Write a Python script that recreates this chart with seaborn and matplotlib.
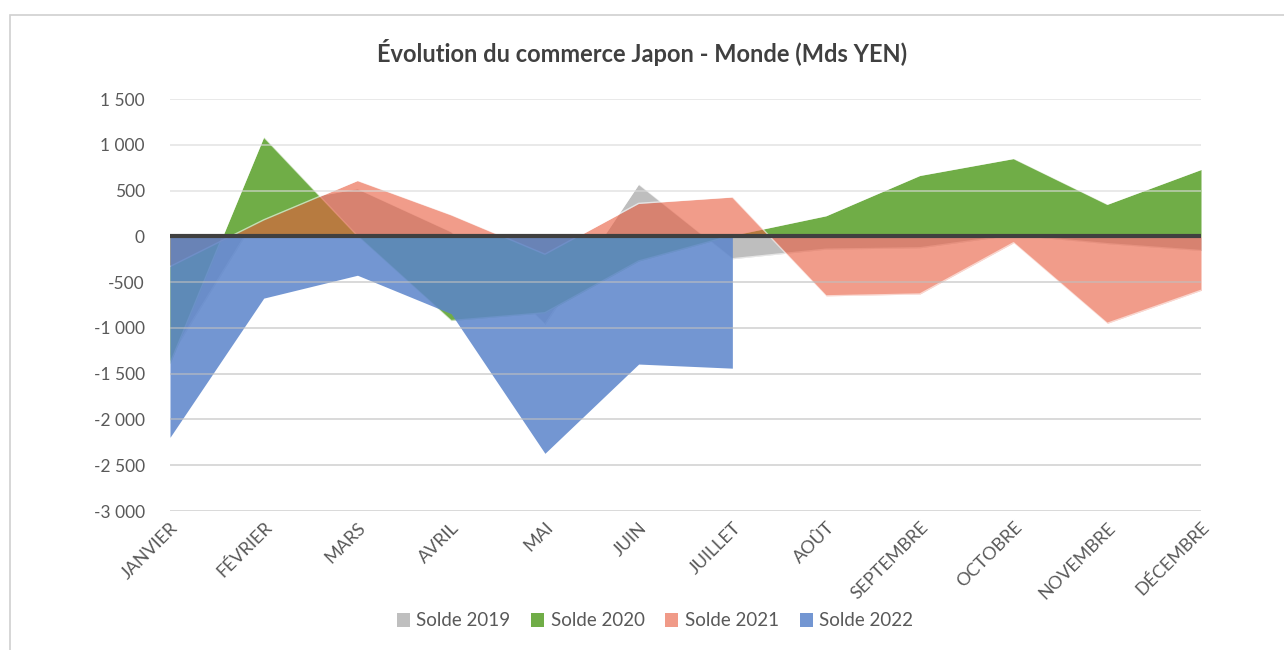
import numpy as np
import pandas as pd
import seaborn as sns
import matplotlib.pyplot as plt
from matplotlib.patches import Patch, Rectangle
from matplotlib.ticker import FuncFormatter

# Months and trade balance (Mds YEN)
mois = ["JANVIER", "FÉVRIER", "MARS", "AVRIL", "MAI", "JUIN", "JUILLET",
        "AOÛT", "SEPTEMBRE", "OCTOBRE", "NOVEMBRE", "DÉCEMBRE"]
solde_2019 = [-1320, 340, 520, 50, -960, 570, -245, -140, -125, 15, -80, -155]
solde_2020 = [-1390, 1085, 5, -920, -835, -270, 10, 225, 665, 850, 350, 730]
solde_2021 = [-330, 180, 610, 235, -195, 360, 430, -650, -630, -70, -950, -590]
solde_2022 = [-2195, -675, -425, -845, -2370, -1395, -1440]

series = {"Solde 2019": solde_2019, "Solde 2020": solde_2020,
          "Solde 2021": solde_2021, "Solde 2022": solde_2022}
fill_colors = {"Solde 2019": ("#A5A5A5", 0.72), "Solde 2020": ("#70AD47", 1.0),
               "Solde 2021": ("#E85A3C", 0.6), "Solde 2022": ("#5C85CB", 0.86)}
legend_colors = {"Solde 2019": "#BFBFBF", "Solde 2020": "#70AD47",
                 "Solde 2021": "#F09A88", "Solde 2022": "#7396D2"}

# long format table for seaborn
rows = []
for name, vals in series.items():
    for i, v in enumerate(vals):
        rows.append({"serie": name, "idx": i, "valeur": v})
df = pd.DataFrame(rows)

sns.set_theme(style="white")
plt.rcParams["font.family"] = ["Lato", "DejaVu Sans"]

fig = plt.figure(figsize=(12.84, 6.5), dpi=100)
ax = fig.add_axes([170 / 1284, 1 - 511 / 650, (1201 - 170) / 1284, (511 - 99) / 650])

# areas, drawn in series order (later ones on top), each with a light outline
for z, (name, vals) in enumerate(series.items()):
    col, a = fill_colors[name]
    x = np.arange(len(vals))
    ax.fill_between(x, 0, vals, color=col, alpha=a, lw=0, zorder=2 + 2 * z)
    if name != "Solde 2022":
        sns.lineplot(data=df[df.serie == name], x="idx", y="valeur", color="white",
                     lw=1.0, alpha=0.6, ax=ax, zorder=3 + 2 * z)

# gridlines over the areas
for yv in range(-3000, 1501, 500):
    if yv == 0:
        continue
    ax.axhline(yv, color="#BFBFBF" if yv < 0 else "#D9D9D9", lw=1.1, alpha=0.75, zorder=10)
ax.axhline(0, color="#404040", lw=3, zorder=11)

ax.set_xlim(0, len(mois) - 1)
ax.set_ylim(-3000, 1500)
ax.set_yticks(range(-3000, 1501, 500))
ax.yaxis.set_major_formatter(FuncFormatter(lambda v, p: f"{int(v):,}".replace(",", " ")))
ax.set_xticks(range(len(mois)))
ax.set_xticklabels(mois, rotation=45, ha="right", rotation_mode="anchor")
ax.tick_params(axis="y", labelsize=12.5, colors="#595959", length=0, pad=18)
ax.tick_params(axis="x", labelsize=13, colors="#595959", length=0, pad=6)
ax.set_xlabel("")
ax.set_ylabel("")
for s in ax.spines.values():
    s.set_visible(False)

fig.text(0.5, 1 - 53 / 650, "Évolution du commerce Japon - Monde (Mds YEN)",
         ha="center", va="center", fontsize=17, fontweight="bold", color="#404040")

handles = [Patch(facecolor=legend_colors[k], edgecolor="none", label=k) for k in series]
fig.legend(handles=handles, loc="center", bbox_to_anchor=(655 / 1284, 1 - 621 / 650),
           ncol=4, frameon=False, fontsize=13.5, handlelength=0.7, handleheight=0.7,
           handletextpad=0.35, columnspacing=1.1, labelcolor="#595959")

# chart border
fig.patches.append(Rectangle((10 / 1284, -0.1), 1.2, (650 - 15) / 650 + 0.1,
                             transform=fig.transFigure, fill=False,
                             edgecolor="#D0D0D0", lw=1.2))

fig.savefig("out.png", dpi=100)
